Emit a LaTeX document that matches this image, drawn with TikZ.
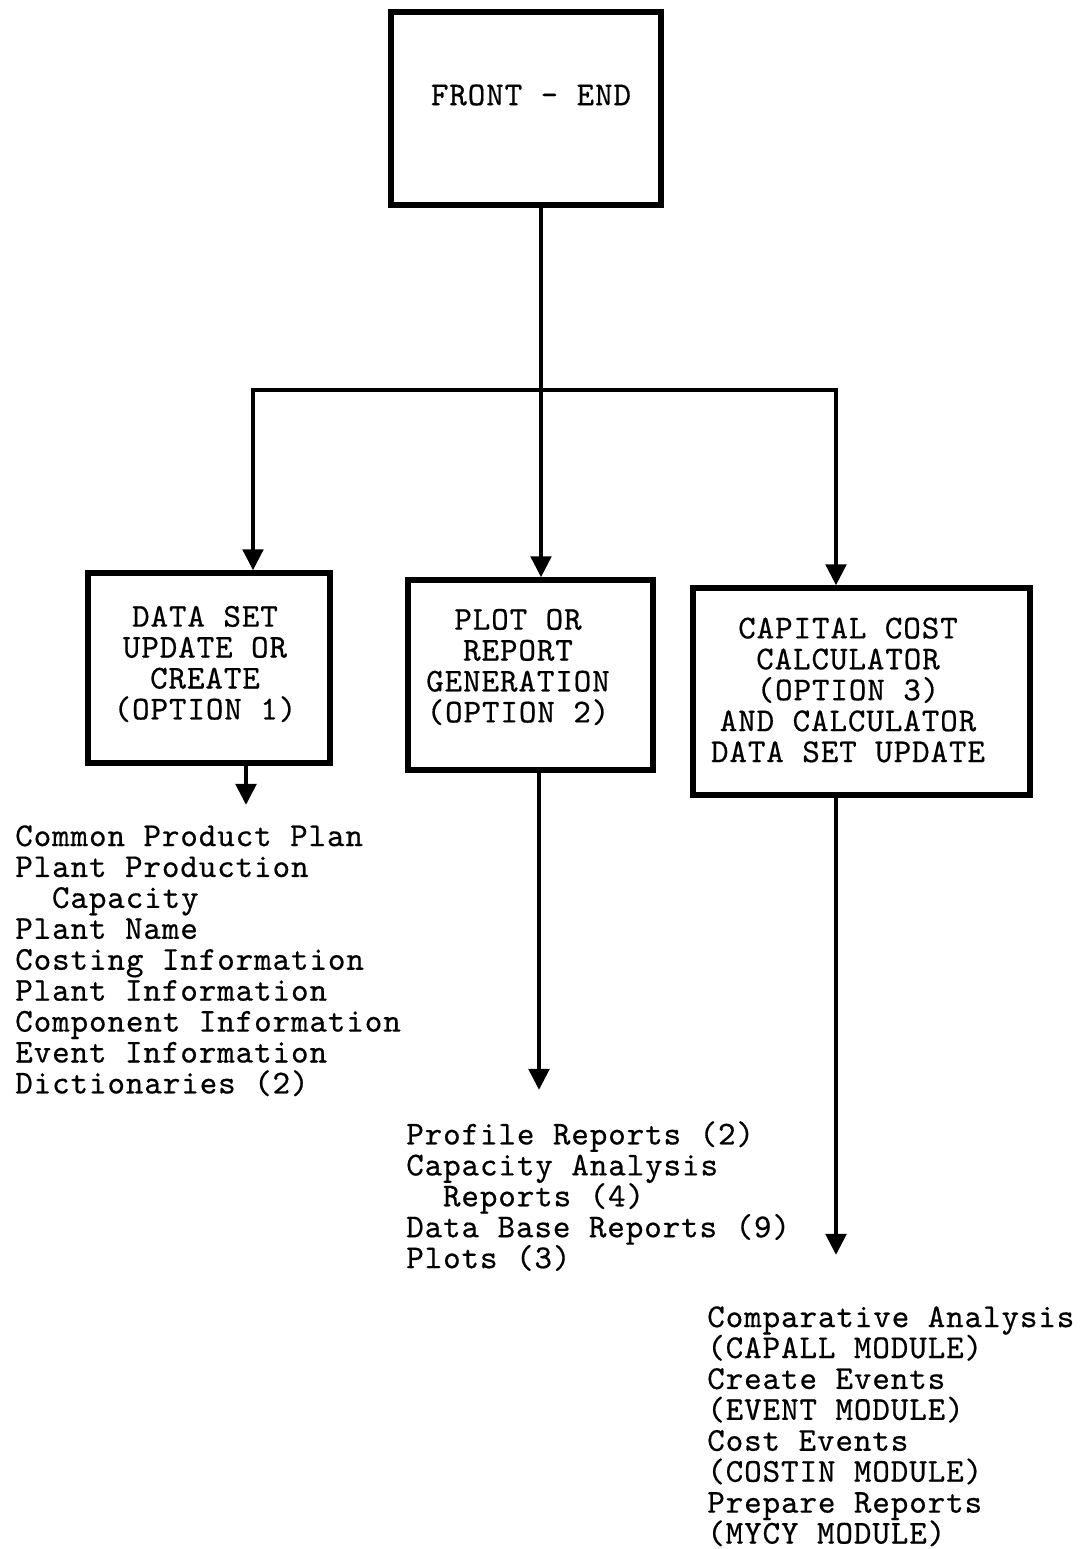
\documentclass[tikz,border=0pt]{standalone}
\usepackage{fontspec}
\usetikzlibrary{arrows.meta}
\newfontfamily\memomono{lmmono10-regular.otf}[FakeBold=0.5, LetterSpace=2.76]
\newcommand{\memofont}{\memomono\fontsize{19pt}{17.6pt}\selectfont\lineskiplimit=-100pt\relax}

\begin{document}
\begin{tikzpicture}[x=0.02cm, y=-0.02cm,
    >={Triangle[length=12pt,width=11.5pt]},
    line width=2.6pt,
    box/.style={draw, rectangle, line width=3pt, inner sep=0pt},
    boxtext/.style={align=center, inner sep=0pt, font=\memofont},
    list/.style={align=left, anchor=north west, inner sep=0pt, font=\memofont}]
\useasboundingbox (0,0) rectangle (1081,1549);

%% 顶部方框
\node[box, minimum width=5.4cm, minimum height=3.86cm] (fe) at (526,108.5) {};
\node[boxtext] (tfe) at (531,95) {FRONT - END};

%% 三个选项方框
\node[box, minimum width=4.84cm, minimum height=3.8cm] (b1) at (209,668) {};
\node[boxtext] (t1) at (205,664) {DATA SET\\UPDATE OR\\CREATE\\(OPTION 1)};

\node[box, minimum width=4.9cm, minimum height=3.8cm] (b2) at (530.5,675) {};
\node[boxtext] (t2) at (518,667) {PLOT OR\\REPORT\\GENERATION\\(OPTION 2)};

\node[box, minimum width=6.74cm, minimum height=4.14cm] (b3) at (861.5,691.5) {};
\node[boxtext] (t3) at (848,690) {CAPITAL COST\\CALCULATOR\\(OPTION 3)\\AND CALCULATOR\\DATA SET UPDATE};

%% 分支
\coordinate (junction) at (541,390);
\coordinate (jl) at (253,390);
\coordinate (jr) at (836,390);
\draw[->] (fe.south -| junction) -- (junction |- b2.north);
\draw[->] (junction) -- (jl) -- (jl |- b1.north);
\draw[->] (junction) -- (jr) -- (jr |- b3.north);

%% 输出列表
\node[list] (l1) at (13,823) {Common Product Plan\\Plant Production\\\hspace*{1.1em}Capacity\\Plant Name\\Costing Information\\Plant Information\\Component Information\\Event Information\\Dictionaries (2)};
\node[list] (l2) at (404,1119) {Profile Reports (2)\\Capacity Analysis\\\hspace*{1.1em}Reports (4)\\Data Base Reports (9)\\Plots (3)};
\node[list] (l3) at (705,1304) {Comparative Analysis\\(CAPALL MODULE)\\Create Events\\(EVENT MODULE)\\Cost Events\\(COSTIN MODULE)\\Prepare Reports\\(MYCY MODULE)};

\coordinate (a1) at (246,805);
\coordinate (a2) at (539,1090);
\coordinate (a3) at (836,1255);
\draw[->] (b1.south -| a1) -- (a1);
\draw[->] (b2.south -| a2) -- (a2);
\draw[->] (b3.south -| a3) -- (a3);

\end{tikzpicture}
\end{document}
